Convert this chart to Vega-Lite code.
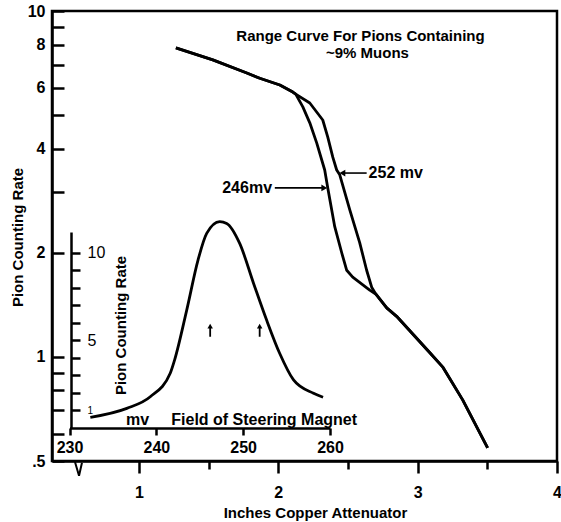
{
  "$schema": "https://vega.github.io/schema/vega-lite/v6.json",
  "width": 505,
  "height": 450,
  "autosize": {"type": "none"},
  "padding": {"left": 52, "top": 11, "right": 4, "bottom": 61},
  "background": "white",
  "config": {
    "view": {"stroke": "black", "strokeWidth": 2.5},
    "font": "Liberation Sans",
    "axis": {
      "domainColor": "black", "domainWidth": 2.5, "tickColor": "black", "tickWidth": 2.5,
      "labelColor": "black", "titleColor": "black", "grid": false,
      "labelFont": "Liberation Sans", "titleFont": "Liberation Sans",
      "labelFontWeight": "bold", "titleFontWeight": "bold",
      "labelOverlap": false, "labelFlush": false
    }
  },
  "datasets": {
    "range": [
      {"curve": "246 mv", "x": 1.265, "y": 7.82},
      {"curve": "246 mv", "x": 1.530, "y": 7.22},
      {"curve": "246 mv", "x": 1.774, "y": 6.62},
      {"curve": "246 mv", "x": 1.867, "y": 6.39},
      {"curve": "246 mv", "x": 2.011, "y": 6.11},
      {"curve": "246 mv", "x": 2.104, "y": 5.83},
      {"curve": "246 mv", "x": 2.125, "y": 5.75},
      {"curve": "246 mv", "x": 2.176, "y": 5.28},
      {"curve": "246 mv", "x": 2.226, "y": 4.75},
      {"curve": "246 mv", "x": 2.276, "y": 4.15},
      {"curve": "246 mv", "x": 2.333, "y": 3.47},
      {"curve": "246 mv", "x": 2.355, "y": 3.08},
      {"curve": "246 mv", "x": 2.405, "y": 2.38},
      {"curve": "246 mv", "x": 2.455, "y": 2.00},
      {"curve": "246 mv", "x": 2.491, "y": 1.78},
      {"curve": "246 mv", "x": 2.534, "y": 1.70},
      {"curve": "246 mv", "x": 2.656, "y": 1.56},
      {"curve": "246 mv", "x": 2.699, "y": 1.52},
      {"curve": "246 mv", "x": 2.778, "y": 1.386},
      {"curve": "246 mv", "x": 2.849, "y": 1.31},
      {"curve": "246 mv", "x": 3.086, "y": 1.03},
      {"curve": "246 mv", "x": 3.179, "y": 0.936},
      {"curve": "246 mv", "x": 3.323, "y": 0.751},
      {"curve": "246 mv", "x": 3.502, "y": 0.546},
      {"curve": "252 mv", "x": 1.265, "y": 7.82},
      {"curve": "252 mv", "x": 1.530, "y": 7.22},
      {"curve": "252 mv", "x": 1.774, "y": 6.62},
      {"curve": "252 mv", "x": 1.867, "y": 6.39},
      {"curve": "252 mv", "x": 2.011, "y": 6.11},
      {"curve": "252 mv", "x": 2.104, "y": 5.83},
      {"curve": "252 mv", "x": 2.125, "y": 5.75},
      {"curve": "252 mv", "x": 2.226, "y": 5.42},
      {"curve": "252 mv", "x": 2.319, "y": 4.84},
      {"curve": "252 mv", "x": 2.355, "y": 4.32},
      {"curve": "252 mv", "x": 2.391, "y": 3.78},
      {"curve": "252 mv", "x": 2.419, "y": 3.47},
      {"curve": "252 mv", "x": 2.441, "y": 3.36},
      {"curve": "252 mv", "x": 2.513, "y": 2.66},
      {"curve": "252 mv", "x": 2.584, "y": 2.14},
      {"curve": "252 mv", "x": 2.634, "y": 1.78},
      {"curve": "252 mv", "x": 2.670, "y": 1.59},
      {"curve": "252 mv", "x": 2.699, "y": 1.52},
      {"curve": "252 mv", "x": 2.778, "y": 1.386},
      {"curve": "252 mv", "x": 2.849, "y": 1.31},
      {"curve": "252 mv", "x": 3.086, "y": 1.03},
      {"curve": "252 mv", "x": 3.179, "y": 0.936},
      {"curve": "252 mv", "x": 3.323, "y": 0.751},
      {"curve": "252 mv", "x": 3.502, "y": 0.546}
    ],
    "brk": [
      {"x": 0.541, "y": 0.497, "o": 1},
      {"x": 0.570, "y": 0.453, "o": 2},
      {"x": 0.591, "y": 0.494, "o": 3}
    ],
    "arrows": [
      {"x": 1.975, "x2": 2.33, "y": 3.08, "dir": "right"},
      {"x": 2.634, "x2": 2.46, "y": 3.40, "dir": "left"}
    ],
    "notes": [
      {"x": 2.59, "y": 8.47, "text": "Range Curve For Pions Containing"},
      {"x": 2.64, "y": 7.56, "text": "~9% Muons"},
      {"x": 1.955, "y": 3.08, "text": "246mv"},
      {"x": 2.648, "y": 3.40, "text": "252 mv"}
    ],
    "peak": [
      {"mv": 232.4, "rate": 0.61},
      {"mv": 236.6, "rate": 1.12},
      {"mv": 239.3, "rate": 1.78},
      {"mv": 241.6, "rate": 3.12},
      {"mv": 242.1, "rate": 3.87},
      {"mv": 243.5, "rate": 6.72},
      {"mv": 244.8, "rate": 9.57},
      {"mv": 245.8, "rate": 11.09},
      {"mv": 247.3, "rate": 11.76},
      {"mv": 248.1, "rate": 11.66},
      {"mv": 249.6, "rate": 10.52},
      {"mv": 251.2, "rate": 8.24},
      {"mv": 252.7, "rate": 6.15},
      {"mv": 254.2, "rate": 4.26},
      {"mv": 255.8, "rate": 2.74},
      {"mv": 258.1, "rate": 1.98},
      {"mv": 259.2, "rate": 1.75}
    ],
    "markers": [
      {"mv": 246.2, "rate": 5.2, "rate2": 5.8},
      {"mv": 251.9, "rate": 5.2, "rate2": 5.8}
    ]
  },
  "layer": [
    {
      "encoding": {
        "x": {
          "field": "x", "type": "quantitative",
          "scale": {"domain": [0.376, 4], "nice": false, "zero": false},
          "axis": {
            "orient": "bottom",
            "values": [1, 1.5, 2, 2.5, 3, 3.5, 4],
            "labelExpr": "datum.value % 1 == 0 ? format(datum.value, 'd') : ''",
            "tickSize": {"condition": {"test": "datum.value % 1 == 0", "value": 12}, "value": 8},
            "labelPadding": 11,
            "labelFontSize": 16,
            "title": "Inches Copper Attenuator",
            "titleFontSize": 15,
            "titleX": 263, "titleY": 51,
            "titleAlign": "center", "titleBaseline": "middle"
          }
        },
        "y": {
          "field": "y", "type": "quantitative",
          "scale": {"type": "log", "domain": [0.5, 10], "nice": false},
          "axis": {
            "orient": "left",
            "values": [0.5, 0.6, 0.7, 0.8, 0.9, 1, 2, 3, 4, 5, 6, 7, 8, 9, 10],
            "labelExpr": "datum.value == 0.5 ? '.5' : ((datum.value == 1 || datum.value == 2 || datum.value == 4 || datum.value == 6 || datum.value == 8 || datum.value == 10) ? format(datum.value, 'd') : '')",
            "tickSize": -12,
            "labelPadding": 19,
            "labelFontSize": 16,
            "title": "Pion Counting Rate",
            "titleFontSize": 15,
            "titleAngle": 270,
            "titleX": -35, "titleY": 226,
            "titleAlign": "center", "titleBaseline": "middle"
          }
        }
      },
      "layer": [
        {
          "data": {"name": "range"},
          "mark": {"type": "line", "color": "black", "strokeWidth": 2.8, "strokeJoin": "round"},
          "encoding": {"detail": {"field": "curve", "type": "nominal"}}
        },
        {
          "data": {"name": "brk"},
          "mark": {"type": "line", "color": "black", "strokeWidth": 2},
          "encoding": {"order": {"field": "o", "type": "quantitative"}}
        },
        {
          "data": {"name": "arrows"},
          "mark": {"type": "rule", "color": "black", "strokeWidth": 1.6},
          "encoding": {"x2": {"field": "x2"}}
        },
        {
          "data": {"name": "arrows"},
          "mark": {"type": "point", "filled": true, "color": "black", "size": 45, "opacity": 1},
          "encoding": {
            "x": {"field": "x2", "type": "quantitative"},
            "shape": {"field": "dir", "type": "nominal", "scale": {"domain": ["right", "left"], "range": ["triangle-right", "triangle-left"]}, "legend": null}
          }
        },
        {
          "data": {"name": "notes"},
          "transform": [{"filter": "datum.text == 'Range Curve For Pions Containing' || datum.text == '~9% Muons'"}],
          "mark": {"type": "text", "fontSize": 15, "fontWeight": "bold", "align": "center", "color": "black"},
          "encoding": {"text": {"field": "text"}}
        },
        {
          "data": {"name": "notes"},
          "transform": [{"filter": "datum.text == '246mv'"}],
          "mark": {"type": "text", "fontSize": 16, "fontWeight": "bold", "align": "right", "color": "black"},
          "encoding": {"text": {"field": "text"}}
        },
        {
          "data": {"name": "notes"},
          "transform": [{"filter": "datum.text == '252 mv'"}],
          "mark": {"type": "text", "fontSize": 16, "fontWeight": "bold", "align": "left", "color": "black"},
          "encoding": {"text": {"field": "text"}}
        }
      ]
    },
    {
      "encoding": {
        "x": {
          "field": "mv", "type": "quantitative",
          "scale": {"domain": [230, 260], "range": [17.5, 278], "nice": false, "zero": false},
          "axis": {
            "orient": "bottom", "offset": -33,
            "values": [230, 240, 250, 260], "format": "d",
            "tickSize": 7, "labelPadding": 4, "labelFontSize": 16,
            "title": "mv\u00a0\u00a0\u00a0\u00a0\u00a0Field of Steering Magnet",
            "titleFontSize": 16,
            "titleX": 189, "titleY": -9,
            "titleAlign": "center", "titleBaseline": "middle"
          }
        },
        "y": {
          "field": "rate", "type": "quantitative",
          "scale": {"domain": [0, 11.17], "range": [417, 221], "nice": false, "zero": false},
          "axis": {
            "orient": "right", "offset": -486,
            "values": [1, 2, 3, 4, 5, 6, 7, 8, 9, 10],
            "labelExpr": "(datum.value == 1 || datum.value == 5 || datum.value == 10) ? format(datum.value, 'd') : ''",
            "tickSize": 9, "labelPadding": 7,
            "labelFontSize": {"condition": {"test": "datum.value == 1", "value": 10}, "value": 16},
            "labelFontWeight": "normal",
            "title": "Pion Counting Rate",
            "titleFontSize": 15,
            "titleAngle": 270,
            "titleX": 49, "titleY": 314,
            "titleAlign": "center", "titleBaseline": "middle"
          }
        }
      },
      "layer": [
        {
          "data": {"name": "peak"},
          "mark": {"type": "line", "color": "black", "strokeWidth": 2.8, "interpolate": "monotone"}
        },
        {
          "data": {"name": "markers"},
          "mark": {"type": "rule", "color": "black", "strokeWidth": 1.8},
          "encoding": {"y2": {"field": "rate2"}}
        },
        {
          "data": {"name": "markers"},
          "mark": {"type": "point", "shape": "triangle-up", "filled": true, "color": "black", "size": 30, "opacity": 1},
          "encoding": {"y": {"field": "rate2", "type": "quantitative"}}
        }
      ]
    }
  ],
  "resolve": {"scale": {"x": "independent", "y": "independent"}}
}
